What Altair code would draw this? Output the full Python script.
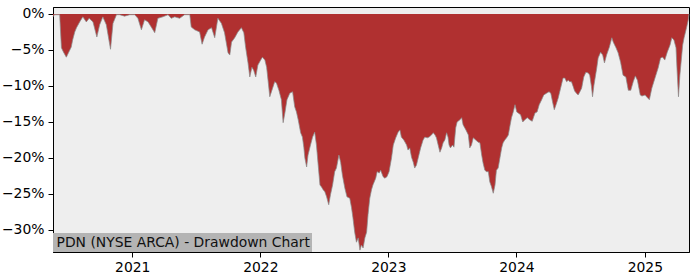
import altair as alt
import pandas as pd

dates = [
    "2020-05-20","2020-05-24","2020-06-08","2020-06-13","2020-06-19","2020-06-27","2020-07-03","2020-07-11",
    "2020-07-15","2020-07-21","2020-07-26","2020-08-04","2020-08-13","2020-08-23","2020-08-31","2020-09-11",
    "2020-09-22","2020-09-30","2020-10-09","2020-10-19","2020-10-31","2020-11-07","2020-11-17","2020-11-26",
    "2020-12-10","2020-12-25",
    "2021-01-08","2021-01-17","2021-01-27","2021-02-05","2021-02-15","2021-02-24","2021-03-06","2021-03-15",
    "2021-03-29","2021-04-13","2021-04-22","2021-05-02","2021-05-16","2021-05-30","2021-06-14","2021-06-18",
    "2021-06-28","2021-07-12","2021-07-19","2021-07-26","2021-08-05","2021-08-15","2021-08-24","2021-09-02",
    "2021-09-12","2021-09-21","2021-10-01","2021-10-06","2021-10-11","2021-10-20","2021-10-29","2021-11-08",
    "2021-11-15","2021-11-20","2021-11-27","2021-12-02","2021-12-08","2021-12-13","2021-12-19","2021-12-25",
    "2022-01-02","2022-01-07","2022-01-14","2022-01-19","2022-01-23","2022-01-28","2022-02-05","2022-02-11",
    "2022-02-16","2022-02-23","2022-03-02","2022-03-07","2022-03-12","2022-03-18","2022-03-26","2022-04-03",
    "2022-04-09","2022-04-14","2022-04-19","2022-04-26","2022-05-01","2022-05-05","2022-05-08","2022-05-13",
    "2022-05-17","2022-05-24","2022-05-30","2022-06-05","2022-06-10","2022-06-15","2022-06-20","2022-06-24",
    "2022-06-29","2022-07-04","2022-07-09","2022-07-15","2022-07-20","2022-07-26","2022-08-01","2022-08-06",
    "2022-08-13","2022-08-18","2022-08-23","2022-08-30","2022-09-05","2022-09-13","2022-09-18","2022-09-22",
    "2022-09-27","2022-10-02","2022-10-07","2022-10-12","2022-10-16","2022-10-21","2022-10-26","2022-10-31",
    "2022-11-04","2022-11-09","2022-11-14","2022-11-18","2022-11-26","2022-11-30","2022-12-06","2022-12-10",
    "2022-12-17","2022-12-22","2022-12-28",
    "2023-01-03","2023-01-10","2023-01-15","2023-01-22","2023-01-29","2023-02-03","2023-02-07","2023-02-14",
    "2023-02-22","2023-02-26","2023-03-03","2023-03-08","2023-03-13","2023-03-17","2023-03-22","2023-03-27",
    "2023-04-03","2023-04-10","2023-04-15","2023-04-22","2023-04-27","2023-05-04","2023-05-09","2023-05-14",
    "2023-05-18","2023-05-23","2023-05-28","2023-06-02","2023-06-06","2023-06-11","2023-06-16","2023-06-20",
    "2023-06-23","2023-06-27","2023-07-03","2023-07-07","2023-07-12","2023-07-16","2023-07-24","2023-07-29",
    "2023-08-02","2023-08-10","2023-08-17","2023-08-21","2023-08-26","2023-08-31","2023-09-07","2023-09-14",
    "2023-09-19","2023-09-24","2023-09-28","2023-10-03","2023-10-08","2023-10-13","2023-10-17","2023-10-22",
    "2023-10-27","2023-11-01","2023-11-05","2023-11-10","2023-11-15","2023-11-20","2023-11-24","2023-11-29",
    "2023-12-04","2023-12-09","2023-12-13","2023-12-18","2023-12-23","2023-12-28",
    "2024-01-02","2024-01-06","2024-01-13","2024-01-19","2024-01-25","2024-02-01","2024-02-08","2024-02-15",
    "2024-02-23","2024-02-29","2024-03-06","2024-03-13","2024-03-19","2024-03-27","2024-04-03","2024-04-08",
    "2024-04-13","2024-04-18","2024-04-23","2024-04-29","2024-05-06","2024-05-13","2024-05-18","2024-05-23",
    "2024-05-28","2024-06-01","2024-06-06","2024-06-11","2024-06-15","2024-06-20","2024-06-25","2024-06-30",
    "2024-07-05","2024-07-11","2024-07-17","2024-07-24","2024-07-28","2024-08-02","2024-08-05","2024-08-09",
    "2024-08-17","2024-08-21","2024-08-28","2024-09-03","2024-09-08","2024-09-14","2024-09-22","2024-09-29",
    "2024-10-03","2024-10-11","2024-10-17","2024-10-24","2024-10-31","2024-11-08","2024-11-15","2024-11-22",
    "2024-11-29","2024-12-05","2024-12-11","2024-12-19","2024-12-24",
    "2025-01-02","2025-01-06","2025-01-14","2025-01-21","2025-01-30","2025-02-08","2025-02-15","2025-02-21",
    "2025-02-27","2025-03-06","2025-03-14","2025-03-19","2025-03-25","2025-03-31","2025-04-03","2025-04-07",
    "2025-04-11","2025-04-19","2025-04-23","2025-04-30","2025-05-05","2025-05-07",
]

drawdown = [
    -0.4,-0.1,-0.1,-4.7,-5.3,-6.0,-5.4,-4.6,
    -3.6,-2.5,-1.9,-1.1,-0.4,-1.1,-0.6,-1.1,
    -3.2,-1.5,-0.4,-1.5,-4.9,-1.3,-0.1,-0.1,
    -0.3,-0.1,
    -0.1,-0.6,-2.2,-0.8,-1.1,-1.8,-2.6,-0.6,
    -0.4,-0.1,-0.6,-0.4,-0.6,-0.1,-0.1,-1.8,
    -2.2,-2.5,-4.2,-3.2,-2.2,-1.9,-3.3,-0.6,
    -1.3,-2.6,-5.4,-5.7,-3.9,-3.3,-2.5,-1.9,
    -2.6,-4.6,-6.8,-8.75,-7.4,-7.8,-8.75,-7.1,
    -6.4,-6.0,-6.4,-7.4,-9.2,-11.5,-10.3,-9.4,
    -9.6,-10.6,-11.9,-15.1,-13.75,-11.9,-11.0,-10.8,
    -12.9,-13.6,-14.7,-16.5,-17.1,-18.5,-20.0,-21.25,
    -19.6,-18.2,-17.1,-16.4,-18.2,-21.0,-23.75,-24.0,
    -24.4,-24.7,-25.4,-26.5,-25.1,-23.75,-21.9,-21.4,
    -19.6,-20.6,-22.4,-24.2,-25.4,-25.6,-26.9,-28.3,
    -30.3,-31.7,-31.1,-32.8,-32.1,-32.5,-31.1,-30.3,
    -27.9,-25.6,-24.4,-23.75,-22.8,-21.9,-22.1,-21.7,
    -22.6,-22.8,-22.6,
    -21.9,-20.0,-18.2,-17.2,-16.4,-16.1,-17.1,-17.5,
    -18.2,-18.9,-18.6,-19.9,-20.6,-21.4,-21.0,-20.0,
    -18.6,-17.5,-17.1,-17.2,-17.1,-16.8,-16.5,-16.8,
    -17.2,-18.2,-19.2,-18.6,-17.9,-17.5,-16.5,-17.1,
    -18.2,-18.6,-18.2,-18.5,-15.8,-15.0,-14.7,-14.4,
    -15.4,-16.1,-16.8,-18.6,-18.2,-17.2,-17.5,-17.8,
    -17.9,-19.6,-20.7,-21.7,-21.9,-21.9,-23.3,-24.0,
    -24.9,-23.75,-21.7,-21.4,-20.0,-18.6,-17.9,-17.5,
    -17.2,-16.8,-15.7,-14.4,-13.6,-12.6,
    -13.6,-13.75,-14.0,-15.0,-14.7,-14.4,-14.7,-14.9,
    -13.75,-13.6,-12.6,-11.9,-11.25,-11.0,-10.8,-11.0,
    -12.2,-13.3,-12.6,-11.7,-10.3,-8.9,-8.9,-9.4,
    -9.2,-9.4,-9.4,-10.1,-10.7,-11.0,-11.25,-10.8,
    -10.3,-8.75,-8.1,-8.2,-8.5,-10.1,-11.5,-9.9,
    -7.5,-6.1,-5.3,-5.7,-6.8,-5.7,-4.6,-3.3,
    -3.9,-4.7,-5.4,-6.7,-8.5,-8.75,-10.6,-10.6,
    -9.4,-8.6,-9.2,-11.25,-11.4,
    -11.25,-11.5,-11.9,-10.3,-8.9,-7.5,-6.1,-6.0,
    -6.4,-5.3,-4.3,-3.3,-3.6,-4.7,-7.8,-11.5,
    -8.5,-4.3,-3.3,-1.9,-0.8,0.0,
]

y_ticks = [-30, -25, -20, -15, -10, -5, 0]
title_text = "PDN (NYSE ARCA) - Drawdown Chart"

df = pd.DataFrame({"date": pd.to_datetime(dates), "dd": drawdown})

FONT = "DejaVu Sans"
FS = 13.9

x_enc = alt.X(
    "date:T",
    scale=alt.Scale(domain=[dates[0], dates[-1]]),
    axis=alt.Axis(
        format="%Y", tickCount={"interval": "year", "step": 1}, title=None, grid=False,
        labelFontSize=FS, labelColor="#000000", tickColor="#000000", domainColor="#000000",
        tickSize=5, labelPadding=3, labelFont=FONT, labelFlush=False,
    ),
)
y_enc = alt.Y(
    "dd:Q",
    scale=alt.Scale(domain=[-33.06, 0.97], nice=False, zero=False),
    axis=alt.Axis(
        values=y_ticks, labelExpr="format(datum.value, 'd') + '%'", title=None, grid=False,
        labelFontSize=FS, labelColor="#000000", tickColor="#000000", domainColor="#000000",
        tickSize=5, labelPadding=4, labelFont=FONT,
    ),
)

area = alt.Chart(df).mark_area(color="#b03030", interpolate="linear").encode(
    x=x_enc, y=y_enc, y2=alt.value(0)
)
edge = alt.Chart(df).mark_line(color="#8a8a8a", strokeWidth=0.9, opacity=0.8).encode(
    x="date:T", y="dd:Q"
)

box_df = pd.DataFrame({"label": [title_text]})
box = alt.Chart(box_df).mark_rect(color="#b4b4b4").encode(
    x=alt.value(0), x2=alt.value(259), y=alt.value(226), y2=alt.value(245)
)
label = alt.Chart(box_df).mark_text(
    align="left", baseline="middle", font=FONT, fontSize=FS, color="#111111"
).encode(x=alt.value(3.5), y=alt.value(236), text="label:N")

chart = alt.layer(area, edge, box, label).properties(
    width=636, height=245,
    padding={"left": 53, "top": 7, "right": 11, "bottom": 28},
    autosize=alt.AutoSizeParams(type="none"),
    background="#ffffff",
).configure_view(stroke="#000000", strokeWidth=1, fill="#eeeeee")

chart.save("out.html", embed_options={"renderer": "svg", "actions": False})
